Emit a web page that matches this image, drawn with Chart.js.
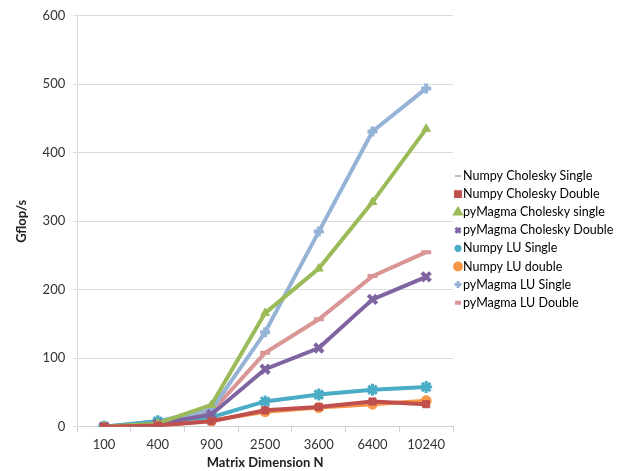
<!DOCTYPE html>
<html>
<head>
<meta charset="utf-8">
<script src="https://cdn.jsdelivr.net/npm/chart.js@4/dist/chart.umd.min.js"></script>
<style>
  html, body { margin: 0; padding: 0; background: #fff; }
  #wrap { width: 621px; height: 471px; position: relative; }
</style>
</head>
<body>
<div id="wrap"><canvas id="chart"></canvas></div>
<script>
// --- Data ---
const sizes = ['100', '400', '900', '2500', '3600', '6400', '10240'];

const numpyCholSingle = [null, null, null, null, null, null, null];
const numpyCholDouble = [0, 2, 8, 24, 29, 37, 33];
const magmaCholSingle = [0, 5, 32, 166, 231, 328, 435];
const magmaCholDouble = [0, 4, 18, 84, 115, 186, 219];
const numpyLuSingle = [0, 8, 14, 37, 47, 54, 58];
const numpyLuDouble = [0, 2, 9, 22, 28, 33, 38];
const magmaLuSingle = [0, 8, 25, 138, 285, 431, 494];
const magmaLuDouble = [0, 5, 22, 108, 157, 220, 255];

const yTicks = [0, 100, 200, 300, 400, 500, 600];

const FONT = 'Lato, "Liberation Sans", sans-serif';

function series(label, data, color, style, radius, pbw) {
  return {
    label: label,
    data: data,
    borderColor: color,
    backgroundColor: color,
    borderWidth: 4,
    pointStyle: style,
    pointRadius: radius,
    pointHoverRadius: radius,
    pointBorderWidth: pbw,
    tension: 0
  };
}

// legend drawn by hand: the built-in one gets squeezed to half the width on the right
const sideLegend = {
  id: 'sideLegend',
  afterDraw(chart) {
    const ctx = chart.ctx;
    const x0 = chart.chartArea.right + 5;
    let y = 176;
    ctx.save();
    ctx.font = '12.5px ' + FONT;
    ctx.textBaseline = 'middle';
    chart.data.datasets.forEach(ds => {
      const isLine = ds.pointStyle === 'line';
      ctx.fillStyle = ds.backgroundColor;
      ctx.strokeStyle = ds.borderColor;
      ctx.lineWidth = isLine ? (ds.label.startsWith('Numpy') ? 1 : 4) : 3;
      Chart.helpers.drawPoint(ctx, {
        pointStyle: ds.pointStyle,
        radius: isLine ? 3 : 3.5,
        rotation: 0,
        borderWidth: ctx.lineWidth
      }, x0, y);
      ctx.fillStyle = '#000';
      ctx.fillText(ds.label, x0 + 5, y);
      y += 18.1;
    });
    ctx.restore();
  }
};

function draw() {
  const ctx = document.getElementById('chart').getContext('2d');
  new Chart(ctx, {
    type: 'line',
    data: {
      labels: sizes,
      datasets: [
        series('Numpy Cholesky Single', numpyCholSingle, '#7f7f7f', 'line', 3, 1),
        series('Numpy Cholesky Double', numpyCholDouble, '#c0504d', 'rect', 5, 1),
        series('pyMagma Cholesky single', magmaCholSingle, '#9bbb59', 'triangle', 5, 1),
        series('pyMagma Cholesky Double', magmaCholDouble, '#8064a2', 'crossRot', 6, 4),
        series('Numpy LU Single', numpyLuSingle, '#4bacc6', 'star', 6, 3),
        series('Numpy LU double', numpyLuDouble, '#f79646', 'circle', 5, 1),
        series('pyMagma LU Single', magmaLuSingle, '#95b3d7', 'cross', 5, 4),
        series('pyMagma LU Double', magmaLuDouble, '#d99694', 'line', 5, 4)
      ]
    },
    options: {
      responsive: true,
      maintainAspectRatio: false,
      animation: false,
      layout: { padding: { top: 8, right: 168, left: 14, bottom: 0 } },
      scales: {
        x: {
          offset: true,
          grid: { display: true, drawOnChartArea: false, color: '#d0d0d0', tickLength: 5, offset: true },
          border: { color: '#d0d0d0' },
          ticks: { color: '#333', font: { family: FONT, size: 13 }, padding: 5 },
          title: { display: true, text: 'Matrix Dimension N', color: '#222', font: { family: FONT, size: 13, weight: 'bold' }, padding: { top: -2, bottom: 0 } }
        },
        y: {
          min: 0,
          max: 600,
          afterBuildTicks: axis => { axis.ticks = yTicks.map(v => ({ value: v })); },
          grid: { color: '#dcdcdc', tickLength: 4 },
          border: { color: '#dcdcdc', display: true },
          ticks: { color: '#333', font: { family: FONT, size: 13 }, padding: 8 },
          title: { display: true, text: 'Gflop/s', color: '#222', font: { family: FONT, size: 13, weight: 'bold' }, padding: { top: 0, bottom: 5 } }
        }
      },
      plugins: {
        legend: { display: false },
        tooltip: { enabled: false }
      }
    },
    plugins: [sideLegend]
  });
}

Promise.all([
  document.fonts.load('12.5px Lato'),
  document.fonts.load('bold 13px Lato')
]).then(draw, draw);
</script>
</body>
</html>
